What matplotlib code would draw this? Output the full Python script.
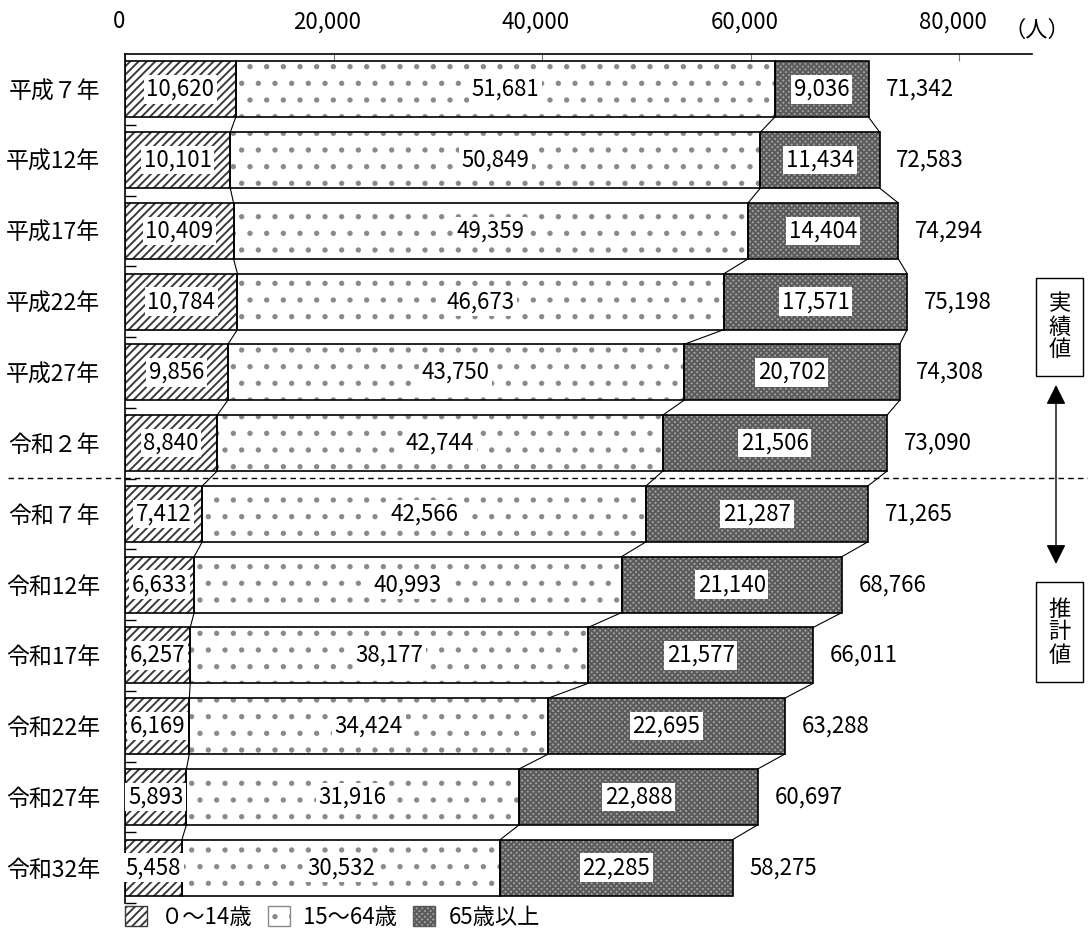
import matplotlib
matplotlib.use("Agg")
import matplotlib.pyplot as plt
from matplotlib.patches import Patch, Rectangle, FancyArrowPatch
from matplotlib.lines import Line2D
from matplotlib.transforms import ScaledTranslation

plt.rcParams['font.family'] = ['Noto Sans CJK JP', 'DejaVu Sans']
plt.rcParams['hatch.linewidth'] = 1.4

# 年齢3区分別人口
categories = ["平成７年", "平成12年", "平成17年", "平成22年", "平成27年", "令和２年",
              "令和７年", "令和12年", "令和17年", "令和22年", "令和27年", "令和32年"]
age_0_14 = [10620, 10101, 10409, 10784, 9856, 8840, 7412, 6633, 6257, 6169, 5893, 5458]
age_15_64 = [51681, 50849, 49359, 46673, 43750, 42744, 42566, 40993, 38177, 34424, 31916, 30532]
age_65_over = [9036, 11434, 14404, 17571, 20702, 21506, 21287, 21140, 21577, 22695, 22888, 22285]
totals = [71342, 72583, 74294, 75198, 74308, 73090, 71265, 68766, 66011, 63288, 60697, 58275]
series_names = ["０～14歳", "15～64歳", "65歳以上"]
x_ticks = [0, 20000, 40000, 60000, 80000]

W, H = 1088, 942
fig = plt.figure(figsize=(W / 100, H / 100), dpi=100)


def fx(px):
    return px / W


def fy(py):
    return 1 - py / H


ax = fig.add_axes([fx(125), fy(903), fx(1032) - fx(125), fy(54) - fy(903)])

seg_styles = [
    dict(face="white", hatch="////", hcol="#3a3a3a"),
    dict(face="white", hatch=".", hcol="#8a8a8a"),
    dict(face="#a2a2a2", hatch="xxxxxx", hcol="#5a5a5a"),
]

h = 0.79
ys = list(range(len(categories)))
lefts = [0] * len(categories)
bounds = []
for vals, st in zip([age_0_14, age_15_64, age_65_over], seg_styles):
    ax.barh(ys, vals, left=lefts, height=h, color=st["face"], hatch=st["hatch"],
            edgecolor=st["hcol"], linewidth=0, zorder=2)
    ax.barh(ys, vals, left=lefts, height=h, fill=False, edgecolor="black",
            linewidth=1.2, zorder=3)
    lefts = [l + v for l, v in zip(lefts, vals)]
    bounds.append(list(lefts))

# connector lines between consecutive bars
for b in bounds:
    for i in range(len(categories) - 1):
        ax.plot([b[i], b[i + 1]], [i + h / 2, i + 1 - h / 2], color="black",
                lw=0.8, zorder=3)

# segment value labels
box = dict(boxstyle="square,pad=0.12", fc="white", ec="none")
starts = [0] * len(categories)
for vals in [age_0_14, age_15_64, age_65_over]:
    for i, v in enumerate(vals):
        ax.text(starts[i] + v / 2, i, f"{v:,}", ha="center", va="center",
                fontsize=16, bbox=box, zorder=5)
    starts = [s + v for s, v in zip(starts, vals)]

for i, t in enumerate(totals):
    ax.text(bounds[2][i] + 1600, i, f"{t:,}", ha="left", va="center", fontsize=16,
            zorder=5)

ax.set_xlim(0, 87000)
ax.set_ylim(len(categories) - 0.5, -0.5)
ax.xaxis.tick_top()
ax.set_xticks(x_ticks)
ax.set_xticklabels([f"{v:,}" for v in x_ticks], fontsize=16)
ax.tick_params(axis="x", direction="in", length=5, color="#777777", pad=15)
shift = ScaledTranslation(-6 / 100, 0, fig.dpi_scale_trans)
for lab in ax.get_xticklabels():
    lab.set_transform(lab.get_transform() + shift)
ax.set_yticks(ys)
ax.set_yticklabels(categories, fontsize=16.5)
ax.set_yticks([i + 0.5 for i in ys], minor=True)
ax.tick_params(axis="y", which="major", length=0, pad=18)
ax.tick_params(axis="y", which="minor", direction="in", length=8, width=1)
for s in ["right", "bottom"]:
    ax.spines[s].set_visible(False)
ax.spines["top"].set_linewidth(1.2)
ax.spines["left"].set_linewidth(1.2)

fig.text(fx(1037), fy(30), "（人）", ha="center", va="center", fontsize=16)

# boundary between actual and projected values
fig.add_artist(Line2D([fx(8), fx(1088)], [fy(478), fy(478)], color="black",
                      lw=1.0, linestyle=(0, (4, 3))))

for (top, bottom, label) in [(278, 376, "実\n績\n値"), (582, 682, "推\n計\n値")]:
    fig.add_artist(Rectangle((fx(1036), fy(bottom)), fx(1083) - fx(1036),
                             fy(top) - fy(bottom), transform=fig.transFigure,
                             fill=False, ec="black", lw=1.0))
    fig.text(fx(1059.5), fy((top + bottom) / 2), label, ha="center", va="center",
             fontsize=16, linespacing=1.0)

fig.add_artist(FancyArrowPatch((fx(1056), fy(385)), (fx(1056), fy(564)),
                               transform=fig.transFigure, arrowstyle="<|-|>",
                               mutation_scale=30, color="black", lw=1.0,
                               shrinkA=0, shrinkB=0))

handles = [Patch(facecolor=st["face"], hatch=st["hatch"], edgecolor=st["hcol"],
                 linewidth=1.0) for st in seg_styles]
fig.legend(handles, series_names, loc="center left",
           bbox_to_anchor=(fx(125), fy(917)), ncol=3, frameon=False, fontsize=16,
           borderpad=0, borderaxespad=0,
           handlelength=1.0, handleheight=1.0, handletextpad=0.6, columnspacing=0.7)

fig.savefig("out.png", dpi=100)
